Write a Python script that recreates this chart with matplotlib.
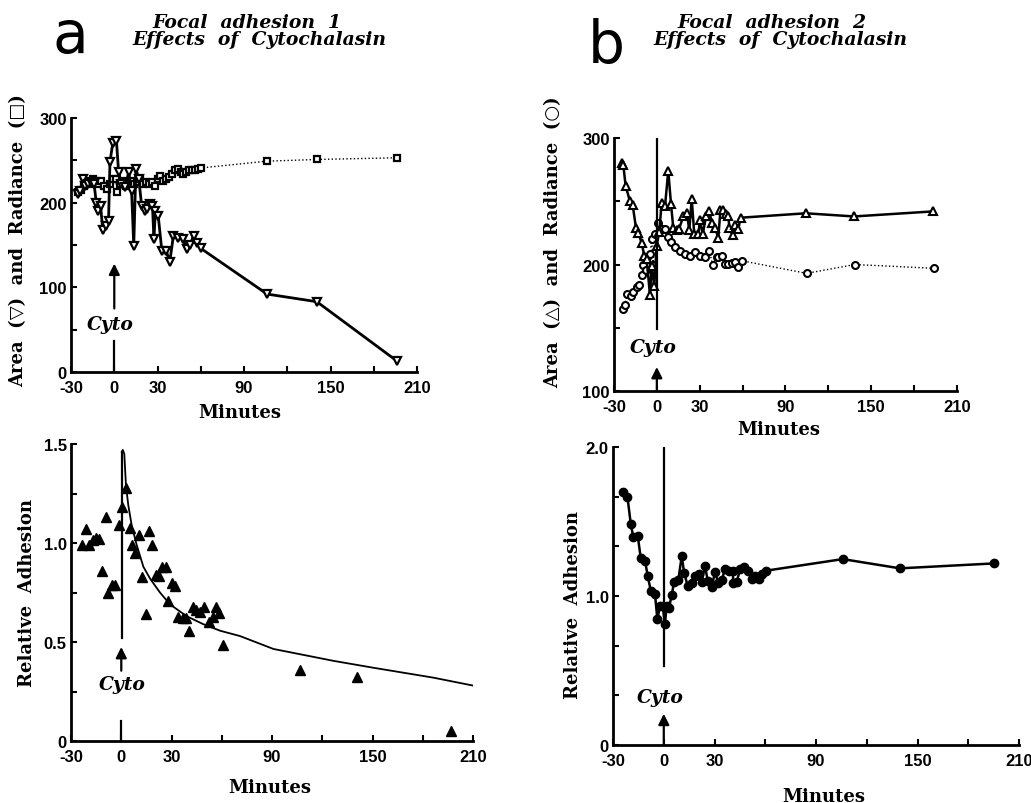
import numpy as np
import matplotlib
matplotlib.use('Agg')
import matplotlib.pyplot as plt

# ---- data ----
# panel a, top: area (down triangles) and radiance (squares)
a_area_t = [-25, -23.5, -22, -20, -18, -16, -14, -12.5, -11, -9.5, -8, -6, -4, -3, -1, 1.5, 3, 5,
            7.5, 10, 12, 13.5, 15, 17, 19, 21, 23, 25, 26.5, 27.5, 28.5, 30.5, 33, 36, 38.5, 41,
            44, 47.5, 50.5, 52.5, 55, 57.5, 60, 106, 140.5, 196]
a_area_v = [210, 214, 228, 220, 222, 224, 222, 200, 190, 196, 168, 172, 178, 248, 271, 273, 236, 222,
            218, 236, 214, 149, 240, 228, 196, 190, 192, 198, 196, 157, 190, 184, 143, 143, 130, 161,
            158, 157, 145, 150, 161, 152, 146, 92, 83, 13]
a_rad_t = [-25, -23, -21, -19, -17, -15, -13, -11, -9, -7, -5, -3, -1, 1, 2, 4, 6, 8, 10, 12, 14,
           16, 18, 20, 22, 24, 26, 28, 30, 32, 34, 36, 38, 40, 42, 44, 46, 48, 50, 52, 54, 56, 58,
           60, 106, 140.5, 196]
a_rad_v = [212, 215, 220, 224, 222, 228, 225, 222, 225, 220, 216, 222, 228, 228, 213, 222, 226, 220,
           224, 226, 222, 224, 228, 222, 224, 222, 224, 220, 228, 231, 225, 228, 230, 234, 238, 240,
           236, 234, 236, 238, 238, 239, 240, 241, 249, 251, 253]

# panel a, bottom: relative adhesion (filled triangles) and fitted curve
a_adh_t = [-23.6, -21.2, -19.1, -17.1, -15.1, -13.1, -11.3, -9.1, -7.7, -5.7, -3.7, -1.1, 0.3, 2.8,
           5.2, 6.4, 8.4, 10.6, 12.2, 14.6, 16.8, 18.2, 20.6, 22.5, 24.5, 26.5, 28.1, 30.1, 32.1,
           34.1, 36.7, 38.7, 40.3, 42.7, 44.6, 47, 49.6, 52.6, 54.6, 56.6, 58.6, 60.6, 106.8,
           140.6, 196.7]
a_adh_v = [0.99, 1.07, 0.99, 1.015, 1.025, 1.02, 0.86, 1.13, 0.75, 0.79, 0.79, 1.09, 1.18, 1.28,
           1.075, 0.99, 0.95, 1.04, 0.83, 0.64, 1.06, 0.99, 0.84, 0.835, 0.88, 0.88, 0.705, 0.80,
           0.785, 0.625, 0.62, 0.62, 0.557, 0.675, 0.66, 0.65, 0.675, 0.60, 0.625, 0.675, 0.645,
           0.485, 0.36, 0.325, 0.05]
a_fit_t = [0.3, 0.9, 1.8, 2.8, 4.2, 6.2, 9.2, 13.2, 17.2, 23.1, 29.1, 39.1, 49, 59, 70.9, 90.8,
           126.6, 150.5, 186.3, 210]
a_fit_v = [1.46, 1.47, 1.45, 1.29, 1.19, 1.09, 0.99, 0.88, 0.82, 0.75, 0.69, 0.63, 0.59, 0.557,
           0.53, 0.465, 0.405, 0.37, 0.32, 0.28]

# panel b, top: area (up triangles) and radiance (circles)
b_area_t = [-24.6, -23.5, -21.8, -18.8, -16.9, -14.6, -13, -10.6, -8.8, -7.1, -4.8, -3.6, -1.8,
            -0.1, 1.7, 3.4, 5.7, 8, 9.9, 11.5, 13.9, 15.5, 18.5, 21, 22.7, 24.4, 26.2, 29, 30.2,
            32.1, 34.4, 36.7, 38.5, 40.7, 43, 44.5, 46, 48.5, 50, 50.8, 53, 54.7, 57, 58.6, 104.3,
            138, 193.4]
b_area_v = [280, 279, 262, 250, 247, 229, 225, 217, 207, 204, 176, 199, 183, 215, 226, 249, 246,
            274, 248, 229, 227, 228, 238, 241, 227, 252, 224, 224, 235, 224, 238, 242, 233, 229,
            221, 243, 243, 240, 238, 229, 223, 231, 228, 237, 240.5, 238, 242]
b_rad_t = [-23.9, -22.3, -20.7, -18.3, -16.5, -14.1, -12.3, -10.6, -9.5, -7.6, -7.1, -4.8, -3.6,
           -2.6, -1.3, 1, 3.4, 5.7, 7.6, 9.9, 12.7, 16.2, 19.7, 23.2, 26.7, 30.2, 33.7, 36.7, 39,
           41.8, 43, 45.4, 47.7, 50, 52.3, 54.7, 57, 59.4, 104.8, 138.6, 193.9]
b_rad_v = [165, 168, 177, 175, 178.5, 182, 184, 192, 200, 196, 206, 208, 220, 200, 224, 233, 228,
           228, 221.5, 217.5, 213.6, 211, 208, 206.4, 210, 206.4, 205.7, 211, 200, 205.7, 206,
           206.4, 200.4, 200.4, 201, 202, 198, 203, 193, 200, 197]

# panel b, bottom: relative adhesion (filled circles)
b_adh_t = [-23.9, -21.5, -19.5, -18, -15.4, -13.6, -11.1, -9.5, -7.7, -5.2, -3.8, -2.2, -0.6, 0.7,
           1.7, 3.1, 4.7, 6.1, 8.6, 10.6, 12.1, 14.1, 16.5, 18.5, 20.8, 22.4, 24.4, 26, 28.3, 30.3,
           32.2, 34.2, 36.2, 38.8, 40.7, 41.1, 43.1, 45.1, 47.5, 50, 52, 54, 56.3, 58.3, 60.3,
           105.8, 139.6, 195.2]
b_adh_v = [1.696, 1.667, 1.483, 1.394, 1.405, 1.253, 1.237, 1.136, 1.036, 1.013, 0.846, 0.935,
           0.93, 0.812, 0.935, 0.923, 1.007, 1.096, 1.11, 1.266, 1.154, 1.069, 1.087, 1.136, 1.15,
           1.096, 1.203, 1.1, 1.064, 1.159, 1.09, 1.105, 1.181, 1.17, 1.17, 1.09, 1.095, 1.18,
           1.196, 1.165, 1.117, 1.136, 1.117, 1.145, 1.17, 1.248, 1.186, 1.219]

x_ticks = [-30, 0, 30, 90, 150, 210]
x_labels = ['-30', '0', '30', '90', '150', '210']
x_minor = [60, 120, 180]

serif = ['DejaVu Serif', 'DejaVu Sans']
tickfont = ['Liberation Sans Narrow', 'Liberation Sans', 'DejaVu Sans']

fig = plt.figure(figsize=(10.31, 8.04), dpi=100, facecolor='white')
ax1 = fig.add_axes([0.0689, 0.5361, 0.3356, 0.3159])
ax2 = fig.add_axes([0.0689, 0.0771, 0.3899, 0.3694])
ax3 = fig.add_axes([0.5955, 0.5124, 0.3327, 0.3147])
ax4 = fig.add_axes([0.5946, 0.0721, 0.3938, 0.3706])


def style(ax, ylim, yticks, ylabels, yminor):
    ax.set_xlim(-30, 210)
    ax.set_ylim(*ylim)
    for s in ['top', 'right']:
        ax.spines[s].set_visible(False)
    for s in ['left', 'bottom']:
        ax.spines[s].set_linewidth(2)
    ax.set_xticks(x_ticks)
    ax.set_xticklabels(x_labels)
    ax.set_xticks(x_minor, minor=True)
    ax.set_yticks(yticks)
    ax.set_yticklabels(ylabels)
    ax.set_yticks(yminor, minor=True)
    ax.tick_params(which='both', direction='in', length=4, width=1.5, labelsize=12)
    ax.tick_params(axis='x', pad=6)
    ax.tick_params(axis='y', pad=3)
    for lbl in ax.get_xticklabels() + ax.get_yticklabels():
        lbl.set_fontweight('bold')
        lbl.set_family(tickfont)


def cyto(ax, tx, ty, a0, a1, x=0):
    ax.text(tx, ty, 'Cyto', ha='center', va='center', fontsize=13.5, style='italic',
            weight='bold', family=serif)
    ax.annotate('', xy=(x, a1), xytext=(x, a0),
                arrowprops=dict(arrowstyle='-|>', lw=1.6, color='black', mutation_scale=16,
                                shrinkA=0, shrinkB=0))


# panel a top
style(ax1, (0, 300), [0, 100, 200, 300], ['0', '100', '200', '300'], [50, 150, 250])
ax1.plot(a_rad_t, a_rad_v, ls=':', lw=1, color='black', marker='s', ms=5, mfc='white',
         mec='black', mew=1.6, clip_on=False)
ax1.plot(a_area_t, a_area_v, ls='-', lw=2, color='black', marker='v', ms=6, mfc='white',
         mec='black', mew=1.6, clip_on=False)
ax1.plot([0, 0], [0, 37], color='black', lw=1.6)
cyto(ax1, -3, 57, 75, 128)

# panel a bottom
style(ax2, (0, 1.5), [0, 0.5, 1.0, 1.5], ['0', '0.5', '1.0', '1.5'], [0.25, 0.75, 1.25])
ax2.plot(a_adh_t, a_adh_v, ls='none', marker='^', ms=6.5, color='black', clip_on=False)
ax2.plot(a_fit_t, a_fit_v, color='black', lw=1.3)
ax2.plot([0.3, 0.3], [0.52, 1.46], color='black', lw=1.6)
ax2.plot([0, 0], [0, 0.10], color='black', lw=1.6)
cyto(ax2, 0.8, 0.29, 0.355, 0.475)

# panel b top
style(ax3, (100, 300), [100, 200, 300], ['100', '200', '300'], [150, 250])
ax3.plot(b_rad_t, b_rad_v, ls=':', lw=1, color='black', marker='o', ms=5, mfc='white',
         mec='black', mew=1.5, clip_on=False)
ax3.plot(b_area_t, b_area_v, ls='-', lw=1.8, color='black', marker='^', ms=5.5, mfc='white',
         mec='black', mew=1.5, clip_on=False)
ax3.plot([0, 0], [149, 300], color='black', lw=1.6)
cyto(ax3, -2.5, 134.5, 100, 119)

# panel b bottom
style(ax4, (0, 2.0), [0, 1.0, 2.0], ['0', '1.0', '2.0'], [1 / 3, 2 / 3, 4 / 3, 5 / 3])
ax4.plot(b_adh_t, b_adh_v, ls='-', lw=1.8, color='black', marker='o', ms=6, mfc='black',
         mec='black', clip_on=False)
ax4.plot([0, 0], [0.53, 2.0], color='black', lw=1.6)
cyto(ax4, -2.2, 0.32, 0.0, 0.21)

# axis labels
lab = dict(fontsize=13, weight='bold', family=serif, ha='center', va='center')
fig.text(240 / 1031, 1 - 413 / 804, 'Minutes', **lab)
fig.text(270 / 1031, 1 - 788 / 804, 'Minutes', **lab)
fig.text(779 / 1031, 1 - 430 / 804, 'Minutes', **lab)
fig.text(824 / 1031, 1 - 797 / 804, 'Minutes', **lab)
fig.text(18 / 1031, 1 - 241 / 804, 'Area  (\u25bd)  and  Radiance  (\u25a1)', rotation=90, **lab)
fig.text(553 / 1031, 1 - 242 / 804, 'Area  (\u25b3)  and  Radiance  (\u25cb)', rotation=90, **lab)
fig.text(27 / 1031, 1 - 593 / 804, 'Relative  Adhesion', rotation=90, **lab)
fig.text(573 / 1031, 1 - 605 / 804, 'Relative  Adhesion', rotation=90, **lab)

# titles
tit = dict(fontsize=13.5, weight='bold', style='italic', family=serif, ha='center', va='center')
fig.text(247 / 1031, 1 - 22.5 / 804, 'Focal  adhesion  1', **tit)
fig.text(259 / 1031, 1 - 40 / 804, 'Effects  of  Cytochalasin', **tit)
fig.text(772 / 1031, 1 - 22.5 / 804, 'Focal  adhesion  2', **tit)
fig.text(780 / 1031, 1 - 40 / 804, 'Effects  of  Cytochalasin', **tit)
fig.text(53 / 1031, 1 - 53 / 804, 'a', fontsize=42, ha='left', va='baseline')
fig.text(588 / 1031, 1 - 63 / 804, 'b', fontsize=42, ha='left', va='baseline')

fig.savefig('out.png', dpi=100, facecolor='white')
